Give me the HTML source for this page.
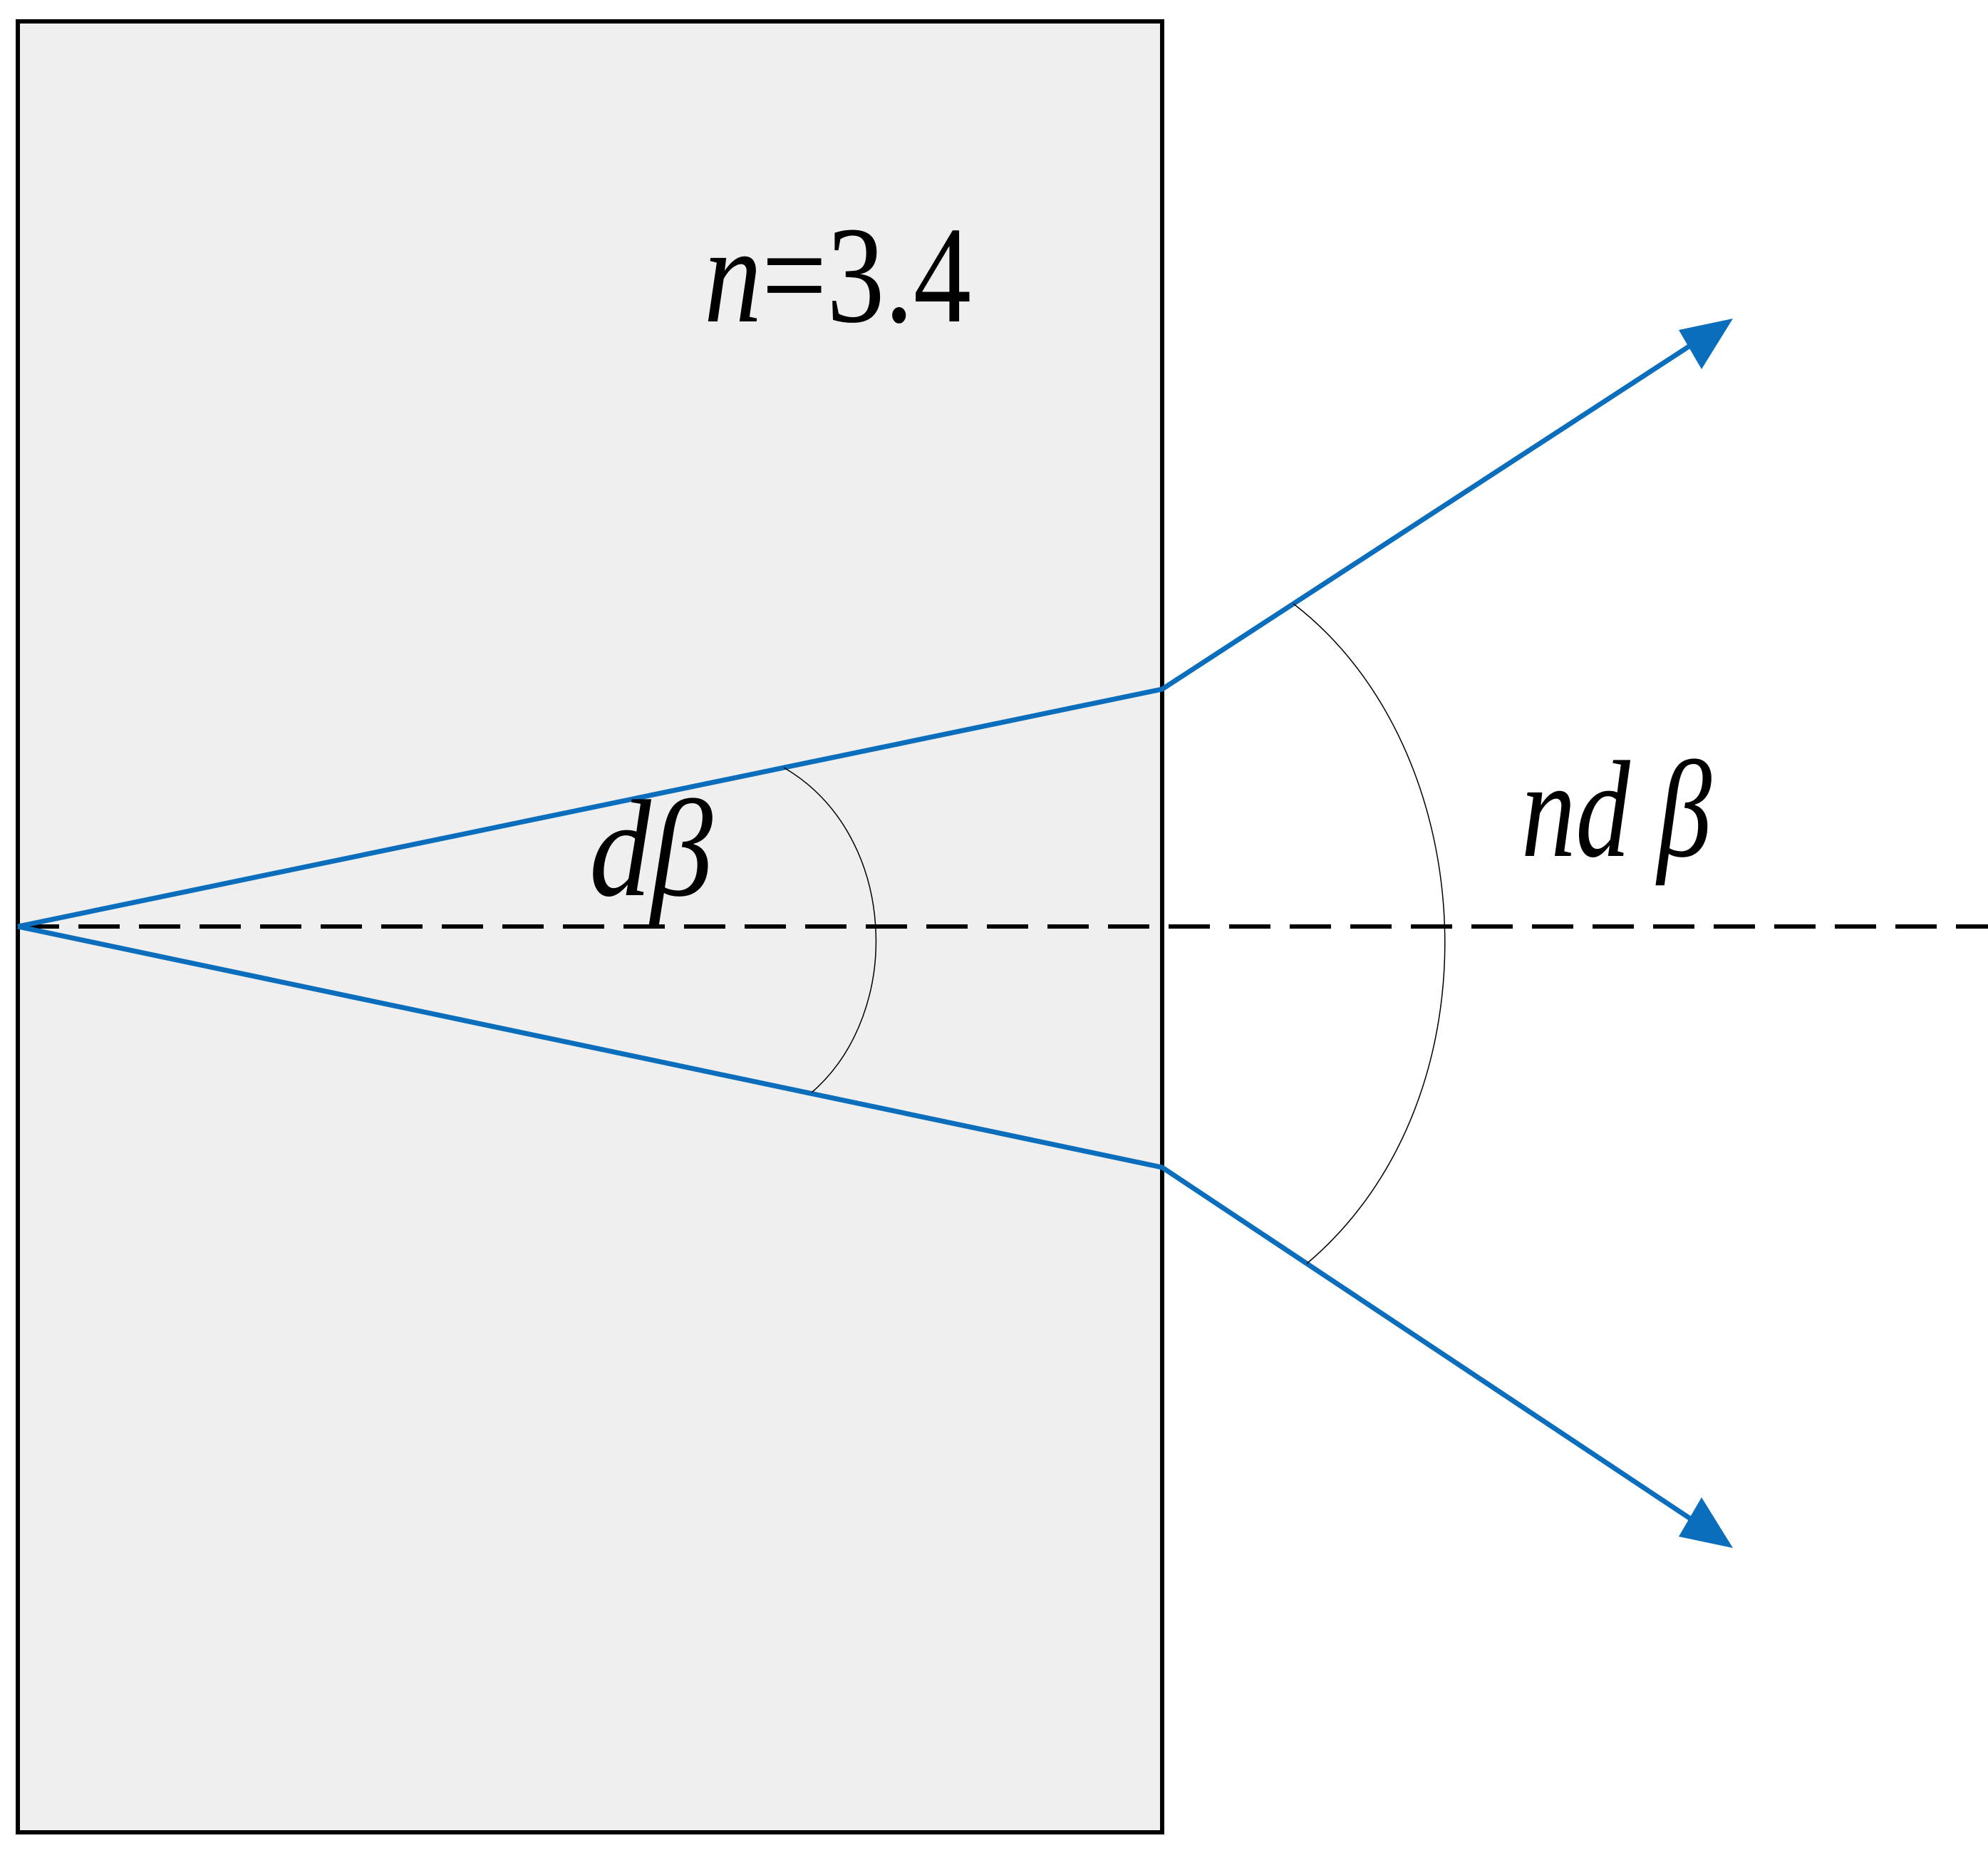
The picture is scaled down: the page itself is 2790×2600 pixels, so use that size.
<!DOCTYPE html>
<html><head><meta charset="utf-8"><style>html,body{margin:0;padding:0;background:#fff}svg{display:block}
.t{font-family:"Liberation Serif","DejaVu Serif",serif;font-size:194px;fill:#000}</style></head>
<body>
<svg width="2790" height="2600" viewBox="0 0 2790 2600" xmlns="http://www.w3.org/2000/svg">
<rect x="25" y="30" width="1606" height="2541" fill="#efefef" stroke="#000" stroke-width="6"/>
<line x1="25" y1="1300" x2="2790" y2="1300" stroke="#000" stroke-width="6" stroke-dasharray="58,27"/>
<polyline points="25,1300 1631,967 2395,470" fill="none" stroke="#0a6ebd" stroke-width="7"/>
<polyline points="25,1300 1631,1638 2395,2146" fill="none" stroke="#0a6ebd" stroke-width="7"/>
<polygon points="2432,447 2356,463 2388,518" fill="#0a6ebd"/>
<polygon points="2432,2172 2356,2156 2388,2101" fill="#0a6ebd"/>
<path d="M1100,1077 C1260,1170 1270,1420 1139,1533" fill="none" stroke="#000" stroke-width="1.5"/>
<path d="M1815,847 C2080,1050 2110,1540 1834,1773" fill="none" stroke="#000" stroke-width="1.5"/>
<text class="t" x="988" y="451" textLength="375" lengthAdjust="spacingAndGlyphs"><tspan font-style="italic">n</tspan>=3.4</text>
<text class="t" x="827" y="1256" font-style="italic" textLength="173" lengthAdjust="spacingAndGlyphs">dβ</text>
<text class="t" x="2135" y="1201" font-style="italic" textLength="267" lengthAdjust="spacingAndGlyphs">nd β</text>
</svg>
</body></html>
